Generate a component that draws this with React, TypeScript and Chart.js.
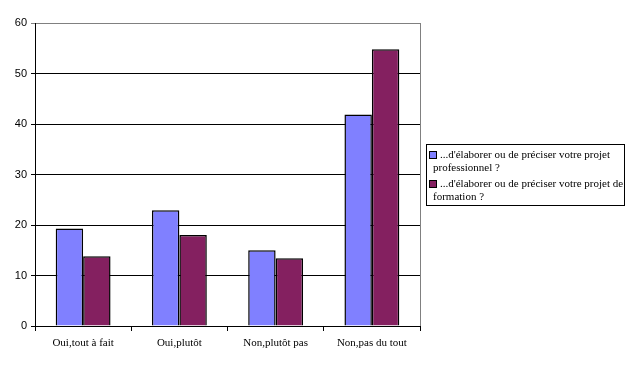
import React, { useEffect, useRef } from "react";
import { Chart, registerables } from "chart.js";

Chart.register(...registerables);

const categories = ["Oui,tout à fait", "Oui,plutôt", "Non,plutôt pas", "Non,pas du tout"];
const seriesNames = [
  "...d'élaborer ou de préciser votre projet professionnel ?",
  "...d'élaborer ou de préciser votre projet de formation ?",
];
const legendLines = [
  ["...d'élaborer ou de préciser votre projet", "professionnel ?"],
  ["...d'élaborer ou de préciser votre projet de", "formation ?"],
];
const serieProfessionnel = [19.3, 22.9, 15.0, 41.9];
const serieFormation = [13.8, 18.0, 13.4, 54.8];
const colors = ["#8080FF", "#842060"];

export default function App() {
  const ref = useRef<HTMLCanvasElement | null>(null);

  useEffect(() => {
    document.body.style.margin = "0";
    const canvas = ref.current!;
    const legendPlugin = {
      id: "customLegend",
      afterDraw(chart: any) {
        const ctx = chart.ctx;
        const ca = chart.chartArea;
        ctx.save();
        ctx.strokeStyle = "#808080";
        ctx.lineWidth = 1;
        ctx.beginPath();
        ctx.moveTo(ca.right + 0.5, ca.top);
        ctx.lineTo(ca.right + 0.5, ca.bottom);
        ctx.stroke();
        const bx = 426, by = 144, bw = 198, bh = 61;
        ctx.fillStyle = "#ffffff";
        ctx.fillRect(bx, by, bw, bh);
        ctx.strokeStyle = "#000000";
        ctx.lineWidth = 1;
        ctx.strokeRect(bx + 0.5, by + 0.5, bw, bh);
        ctx.font = "11px 'Liberation Serif', 'Times New Roman', serif";
        ctx.textBaseline = "middle";
        ctx.textAlign = "left";
        const rows = [
          [155, 168],
          [184, 197],
        ];
        for (let i = 0; i < 2; i++) {
          const y0 = rows[i][0];
          ctx.fillStyle = colors[i];
          ctx.fillRect(430, y0 - 3, 6, 6);
          ctx.strokeStyle = "#000";
          ctx.strokeRect(429.5, y0 - 3.5, 7, 7);
          ctx.fillStyle = "#000";
          ctx.fillText(legendLines[i][0], 440, y0);
          ctx.fillText(legendLines[i][1], 433, rows[i][1]);
        }
        ctx.restore();
      },
    };

    const chart = new Chart(canvas, {
      type: "bar",
      data: {
        labels: categories,
        datasets: [
          {
            label: seriesNames[0],
            data: serieProfessionnel,
            backgroundColor: colors[0],
            borderColor: "#000",
            borderWidth: 1.5,
            categoryPercentage: 0.57,
            barPercentage: 1,
          },
          {
            label: seriesNames[1],
            data: serieFormation,
            backgroundColor: colors[1],
            borderColor: "#000",
            borderWidth: 1.5,
            categoryPercentage: 0.57,
            barPercentage: 1,
          },
        ],
      },
      options: {
        animation: false,
        responsive: false,
        devicePixelRatio: 1,
        layout: { padding: { top: 23, right: 213, left: 0, bottom: 0 } },
        plugins: { legend: { display: false }, tooltip: { enabled: false } },
        scales: {
          x: {
            afterFit: (s: any) => { s.height = 39; },
            grid: {
              offset: true,
              drawOnChartArea: false,
              color: "#000",
              tickLength: 5,
            },
            border: { color: "#000", width: 1 },
            ticks: {
              color: "#000",
              font: { family: "'Liberation Serif', 'Times New Roman', serif", size: 11 },
              padding: 6,
              maxRotation: 0,
            },
          },
          y: {
            min: 0,
            max: 60,
            afterFit: (s: any) => { s.width = 35; },
            grid: {
              color: (c: any) => (c.tick && c.tick.value === 60 ? "#808080" : "#000"),
              tickLength: 4,
            },
            border: { color: "#000", width: 1 },
            ticks: {
              stepSize: 10,
              color: "#000",
              font: { family: "'Liberation Sans', Arial, sans-serif", size: 11 },
              padding: 4,
            },
          },
        },
      },
      plugins: [legendPlugin],
    });
    return () => chart.destroy();
  }, []);

  return <canvas ref={ref} width={633} height={365} style={{ display: "block" }} />;
}
